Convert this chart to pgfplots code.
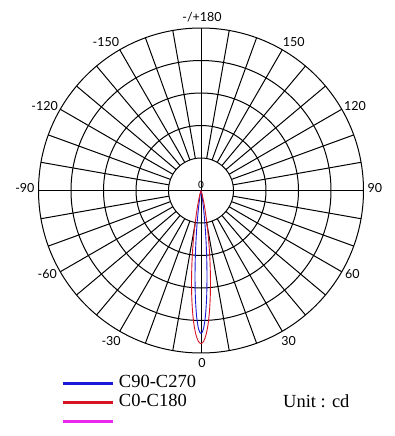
\documentclass[border=0pt]{standalone}
\usepackage{fontspec}
\setmainfont{Liberation Serif}
\newfontfamily\lab{Lato}
\usepackage{pgfplots}
\pgfplotsset{compat=1.18}
\definecolor{cblue}{RGB}{25,25,215}
\definecolor{cred}{RGB}{215,20,35}
\definecolor{cmag}{RGB}{235,40,235}
\begin{document}
\begin{tikzpicture}
\begin{axis}[name=ax, x=32.5pt, y=32.5pt,
  xmin=-6.185, xmax=5.969, ymin=-7.554, ymax=5.862,
  hide axis, clip=false,
  legend style={at={(axis cs:-4.308,-5.692)}, anchor=north west, draw=none, fill=none,
    inner sep=0pt, outer sep=0pt, row sep=3pt,
    font=\fontsize{18.5}{19}\selectfont,
    nodes={inner sep=0pt, text height=12.5pt, text depth=3.5pt}},
  legend cell align=left,
  legend image code/.code={\draw[#1, line width=3pt] (0pt,0pt) -- (51pt,0pt); \path (56pt,0pt);}]
% grid
\pgfplotsinvokeforeach{32.5,65,97.5,130,162.5}{\draw[black, line width=1pt] (axis cs:0,0) circle[radius=#1pt];}
\draw[black, line width=1pt] (axis cs:-5,0) -- (axis cs:5,0);
\draw[black, line width=1pt] (axis cs:0,-5) -- (axis cs:0,5);
\pgfplotsinvokeforeach{0,10,...,350}{\draw[black, line width=1pt] (axis cs:0,0) ++(#1:32.5pt) -- ++(#1:130pt);}
% angle labels
\begin{scope}[font=\lab\fontsize{12.5}{12.5}\selectfont, inner sep=0pt]
\node[anchor=base] at (axis cs:0.031,5.215) {-/+180};
\node[anchor=base west] at (axis cs:2.515,4.446) {150};
\node[anchor=base west] at (axis cs:4.40,2.477) {120};
\node[anchor=base west] at (axis cs:5.12,-0.07) {90};
\node[anchor=base west] at (axis cs:4.43,-2.708) {60};
\node[anchor=base west] at (axis cs:2.465,-4.754) {30};
\node[anchor=base] at (axis cs:0.031,-5.431) {0};
\node[anchor=base east] at (axis cs:-2.465,-4.754) {-30};
\node[anchor=base east] at (axis cs:-4.43,-2.708) {-60};
\node[anchor=base east] at (axis cs:-5.12,-0.07) {-90};
\node[anchor=base east] at (axis cs:-4.40,2.477) {-120};
\node[anchor=base east] at (axis cs:-2.515,4.446) {-150};
\node[anchor=base, font=\lab\fontsize{10}{10}\selectfont] at (axis cs:0,0.077) {0};
\end{scope}
% C90-C270
\addplot[cblue, line width=0.9pt, smooth, data cs=polar] coordinates {
(-106,0) (-104,0.009) (-102,0.044) (-100,0.181) (-99,0.332) (-98,0.572) (-97,0.922)
(-96,1.396) (-95,1.983) (-94,2.642) (-93,3.302) (-92,3.873) (-91,4.262) (-90,4.40)
(-89,4.262) (-88,3.873) (-87,3.302) (-86,2.642) (-85,1.983) (-84,1.396) (-83,0.922)
(-82,0.572) (-81,0.332) (-80,0.181) (-78,0.044) (-76,0.009) (-74,0)};
\addlegendentry{C90-C270}
% C0-C180
\addplot[cred, line width=0.9pt, smooth, data cs=polar] coordinates {
(-114,0) (-110,0.014) (-108,0.042) (-106,0.113) (-104,0.271) (-102,0.579) (-100,1.098)
(-99,1.448) (-98,1.855) (-97,2.307) (-96,2.788) (-95,3.273) (-94,3.731) (-93,4.132)
(-92,4.443) (-91,4.642) (-90,4.71) (-89,4.642) (-88,4.443) (-87,4.132) (-86,3.731)
(-85,3.273) (-84,2.788) (-83,2.307) (-82,1.855) (-81,1.448) (-80,1.098) (-78,0.579)
(-76,0.271) (-74,0.113) (-72,0.042) (-70,0.014) (-66,0)};
\addlegendentry{C0-C180}
\addlegendimage{cmag}
\addlegendentry{}
\node[anchor=base west, font=\fontsize{18.5}{19}\selectfont, inner sep=0pt] at (axis cs:2.523,-6.677) {Unit : cd};
\end{axis}
\pgfresetboundingbox
\path[use as bounding box] (ax.south west) rectangle (ax.north east);
\end{tikzpicture}
\end{document}
